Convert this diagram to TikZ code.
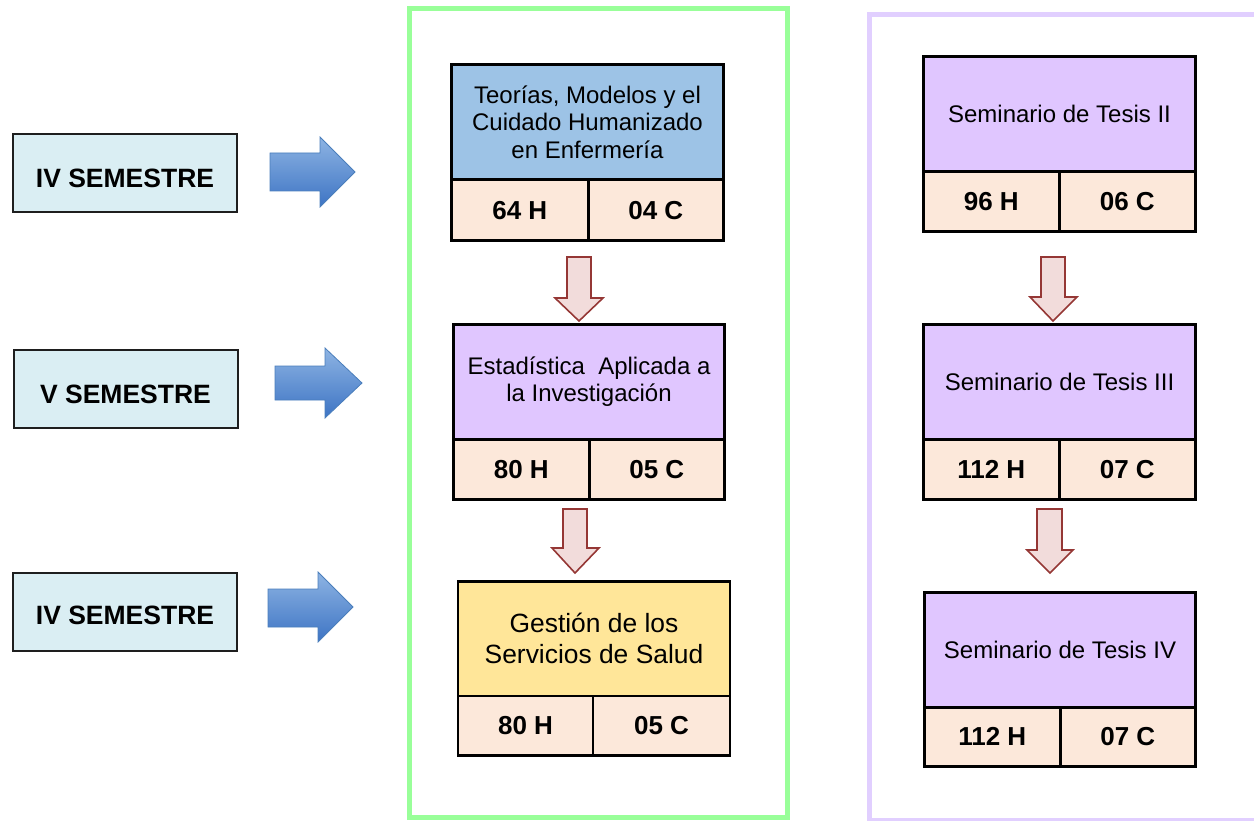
\documentclass[tikz,border=0pt]{standalone}
\usepackage{fontspec}
\setmainfont{Liberation Sans}
\definecolor{semfill}{RGB}{218,238,243}
\definecolor{semline}{RGB}{30,30,30}
\definecolor{bluefill}{RGB}{157,195,230}
\definecolor{purplefill}{RGB}{224,198,255}
\definecolor{yellowfill}{RGB}{255,230,153}
\definecolor{peachfill}{RGB}{252,232,218}
\definecolor{greenframe}{RGB}{153,255,153}
\definecolor{purpleframe}{RGB}{225,207,255}
\definecolor{arrowtop}{RGB}{142,180,227}
\definecolor{arrowbot}{RGB}{61,116,196}
\definecolor{arrowline}{RGB}{74,126,187}
\definecolor{downfill}{RGB}{242,220,219}
\definecolor{downline}{RGB}{149,55,53}
\tikzset{
  semester/.style={draw=semline, line width=2pt, fill=semfill, inner sep=0pt, outer sep=0pt,
    minimum width=224pt, minimum height=78pt, font=\fontsize{26.5}{30}\selectfont\bfseries},
  semtext/.style={inner sep=0pt, font=\fontsize{26.5}{30}\selectfont\bfseries},
  titlebox/.style={draw=black, line width=3pt, anchor=north west, inner sep=0pt, outer sep=0pt,
    align=center, font=\fontsize{24}{27.5}\selectfont},
  cellbox/.style={draw=black, line width=3pt, fill=peachfill, anchor=north west, inner sep=0pt, outer sep=0pt,
    font=\fontsize{26}{30}\selectfont\bfseries},
  bluearrow/.style={draw=arrowline, line width=0.8pt, top color=arrowtop, bottom color=arrowbot, line join=miter},
  downarrow/.style={draw=downline, line width=1.6pt, fill=downfill, line join=miter},
}
\begin{document}
\begin{tikzpicture}[x=1pt,y=-1pt]
\useasboundingbox (0,0) rectangle (1254,821);
% frames
\draw[greenframe, line width=5pt] (409.5,8.5) rectangle (787.5,817.5);
\draw[purpleframe, line width=5pt] (869.5,821) -- (869.5,14.5) -- (1254,14.5);
\draw[purpleframe, line width=3pt] (869.5,819.5) -- (1254,819.5);

% semester boxes
\node[semester] (s1) at (125,173) {};
\node[semtext] at ([yshift=-5.5pt]s1.center) {IV SEMESTRE};
\node[semester] (s2) at (125.5,389) {};
\node[semtext] at ([yshift=-5pt]s2.center) {V SEMESTRE};
\node[semester] (s3) at (125,612) {};
\node[semtext] at ([yshift=-3.5pt]s3.center) {IV SEMESTRE};

% blue block arrows
\draw[bluearrow] (270,153) -- (320,153) -- (320,137) -- (355,172) -- (320,207) -- (320,191) -- (270,191) -- cycle;
\draw[bluearrow] (275,366) -- (325,366) -- (325,348) -- (362,383) -- (325,418) -- (325,400) -- (275,400) -- cycle;
\draw[bluearrow] (268,589) -- (318,589) -- (318,572) -- (353,607) -- (318,642) -- (318,627) -- (268,627) -- cycle;

% middle column
\node[titlebox, fill=bluefill, minimum width=272pt, minimum height=115.5pt] (t1) at (451.5,64.5)
  {Teorías, Modelos y el\\Cuidado Humanizado\\en Enfermería};
\node[cellbox, minimum width=136.5pt, minimum height=60.5pt] (t1h) at (451.5,180) {64 H};
\node[cellbox, minimum width=135.5pt, minimum height=60.5pt] (t1c) at (588,180) {04 C};

\node[titlebox, fill=purplefill, minimum width=271pt, minimum height=114.5pt] (t2) at (453.5,324.5)
  {Estadística\ \ Aplicada a\\la Investigación};
\node[cellbox, minimum width=135.5pt, minimum height=60.5pt] (t2h) at (453.5,439) {80 H};
\node[cellbox, minimum width=135.5pt, minimum height=60.5pt] (t2c) at (589,439) {05 C};

\node[titlebox, fill=yellowfill, line width=2.5pt, minimum width=272pt, minimum height=114.5pt,
  font=\fontsize{26.4}{31}\selectfont] (t3) at (458,581.5)
  {Gestión de los\\Servicios de Salud};
\node[cellbox, line width=2.5pt, minimum width=135pt, minimum height=59.5pt] (t3h) at (458,696) {80 H};
\node[cellbox, line width=2.5pt, minimum width=137pt, minimum height=59.5pt] (t3c) at (593,696) {05 C};

% right column
\node[titlebox, fill=purplefill, minimum width=272pt, minimum height=115.5pt] (r1) at (923.5,56.5)
  {Seminario de Tesis II};
\node[cellbox, minimum width=135.5pt, minimum height=59.5pt] (r1h) at (923.5,172) {96 H};
\node[cellbox, minimum width=136.5pt, minimum height=59.5pt] (r1c) at (1059,172) {06 C};

\node[titlebox, fill=purplefill, minimum width=272pt, minimum height=114.5pt] (r2) at (923.5,324.5)
  {Seminario de Tesis III};
\node[cellbox, minimum width=135.5pt, minimum height=60.5pt] (r2h) at (923.5,439) {112 H};
\node[cellbox, minimum width=136.5pt, minimum height=60.5pt] (r2c) at (1059,439) {07 C};

\node[titlebox, fill=purplefill, minimum width=271pt, minimum height=114.5pt] (r3) at (924.5,592.5)
  {Seminario de Tesis IV};
\node[cellbox, minimum width=135.5pt, minimum height=59.5pt] (r3h) at (924.5,707) {112 H};
\node[cellbox, minimum width=135.5pt, minimum height=59.5pt] (r3c) at (1060,707) {07 C};

% down block arrows
\draw[downarrow] (567,257) -- (591,257) -- (591,298) -- (603,298) -- (579,321) -- (555,298) -- (567,298) -- cycle;
\draw[downarrow] (563,509) -- (587,509) -- (587,548) -- (599,548) -- (575,573) -- (552,548) -- (563,548) -- cycle;
\draw[downarrow] (1041,257) -- (1065,257) -- (1065,297) -- (1077,297) -- (1053,321) -- (1030,297) -- (1041,297) -- cycle;
\draw[downarrow] (1037,509) -- (1062,509) -- (1062,550) -- (1073,550) -- (1050,573) -- (1027,550) -- (1037,550) -- cycle;
\end{tikzpicture}
\end{document}
